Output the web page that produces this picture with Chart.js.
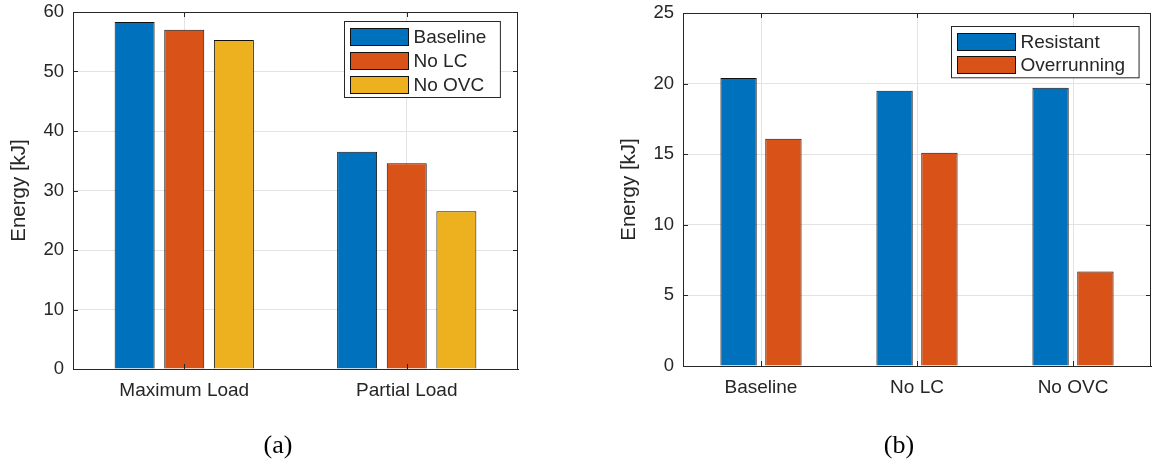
<!DOCTYPE html>
<html>
<head>
<meta charset="utf-8">
<script src="https://cdn.jsdelivr.net/npm/chart.js@4"></script>
<style>
  body { margin: 0; background: #fff; }
  #wrap { position: relative; width: 1152px; height: 463px; }
  .pan { position: absolute; top: 0; width: 576px; height: 463px; }
  .didascalia { position: absolute; top: 429px; width: 100px; text-align: center;
                font: 26px "Liberation Serif", "Times New Roman", serif; color: #000; line-height: 32px; }
</style>
</head>
<body>
<div id="wrap">
  <div class="pan" style="left:0"><canvas id="grafico_a" width="576" height="463"></canvas></div>
  <div class="pan" style="left:576px"><canvas id="grafico_b" width="576" height="463"></canvas></div>
  <div class="didascalia" style="left:228px">(a)</div>
  <div class="didascalia" style="left:849px">(b)</div>
</div>
<script>
// dati
const categorieA = ['Maximum Load', 'Partial Load'];
const baselineA = [58.3, 36.5];
const noLcA = [57.0, 34.6];
const noOvcA = [55.3, 26.5];
const tickA = [0, 10, 20, 30, 40, 50, 60];

const categorieB = ['Baseline', 'No LC', 'No OVC'];
const resistentB = [20.4, 19.5, 19.7];
const overrunningB = [16.1, 15.1, 6.7];
const tickB = [0, 5, 10, 15, 20, 25];

const BLU = '#0072BD', ROSSO = '#D95319', GIALLO = '#EDB120';
const ASSE = '#262626';
const FONT = '"Liberation Sans", Arial, Helvetica, sans-serif';

// box stile matlab: bordo completo, tacche interne, legenda con cornice
const boxMatlab = {
    id: 'boxMatlab',
    afterDraw(chart, args, opts){
        const ctx = chart.ctx;
        const a = chart.chartArea;
        const xs = chart.scales.x, ys = chart.scales.y;
        ctx.save();
        ctx.strokeStyle = ASSE;
        ctx.lineWidth = 1;
        ctx.strokeRect(Math.round(a.left) + 0.5, Math.round(a.top) + 0.5, Math.round(a.right - a.left) - 1, Math.round(a.bottom - a.top));
        const tl = 5;
        ctx.beginPath();
        ys.ticks.forEach((t, i) => {
            const y = Math.round(ys.getPixelForTick(i)) + 0.5;
            ctx.moveTo(a.left, y); ctx.lineTo(a.left + tl, y);
            ctx.moveTo(a.right, y); ctx.lineTo(a.right - tl, y);
        });
        xs.ticks.forEach((t, i) => {
            const x = Math.round(xs.getPixelForTick(i)) + 0.5;
            ctx.moveTo(x, a.bottom); ctx.lineTo(x, a.bottom - tl);
            ctx.moveTo(x, a.top); ctx.lineTo(x, a.top + tl);
        });
        ctx.stroke();

        // legenda
        ctx.font = '19px ' + FONT;
        const ds = chart.data.datasets;
        let maxW = 0;
        ds.forEach(d => { maxW = Math.max(maxW, ctx.measureText(d.label).width); });
        const sw = 58, sh = 17, passo = opts.passo;
        const w = 6 + sw + 5 + maxW + 14;
        const h = 6 + (ds.length - 1) * passo + sh + 5;
        const bx = Math.round(a.right - opts.dx - w) + 0.5;
        const by = Math.round(a.top + opts.dy) + 0.5;
        ctx.fillStyle = '#fff';
        ctx.fillRect(bx, by, w, h);
        ctx.strokeStyle = ASSE;
        ctx.strokeRect(bx, by, w, h);
        ds.forEach((d, i) => {
            const y = Math.round(by + 6 + i * passo);
            ctx.fillStyle = d.backgroundColor;
            ctx.fillRect(bx + 6, y, sw, sh);
            ctx.strokeStyle = '#111';
            ctx.strokeRect(bx + 6, y + 0.5, sw, sh);
            ctx.fillStyle = ASSE;
            ctx.textBaseline = 'middle';
            ctx.textAlign = 'left';
            ctx.fillText(d.label, bx + 6 + sw + 5, y + sh / 2 + 1);
        });
        ctx.restore();
    }
};

function creaGrafico(idCanvas, cfg){
    const ctx = document.getElementById(idCanvas).getContext('2d');
    return new Chart(ctx, {
        type: 'bar',
        data: {
            labels: cfg.labels,
            datasets: cfg.serie.map(s => ({
                label: s.label,
                data: s.data,
                backgroundColor: s.colore,
                borderColor: '#111',
                borderWidth: 1,
                categoryPercentage: cfg.catPerc,
                barPercentage: cfg.barPerc
            }))
        },
        options: {
            responsive: false,
            animation: false,
            layout: { padding: cfg.padding },
            plugins: {
                legend: { display: false },
                tooltip: { enabled: false },
                boxMatlab: cfg.legenda
            },
            scales: {
                x: {
                    grid: { offset: false, color: '#e3e3e3', drawTicks: false },
                    border: { color: ASSE },
                    ticks: { color: ASSE, font: { family: FONT, size: 19 }, padding: 10, maxRotation: 0 },
                    afterFit(s){ s.height = cfg.altX; s.paddingLeft = 0; s.paddingRight = 0; }
                },
                y: {
                    min: 0, max: cfg.max,
                    grid: { color: '#e3e3e3', drawTicks: false },
                    border: { color: ASSE },
                    afterBuildTicks(s){ s.ticks = cfg.tick.map(v => ({ value: v })); },
                    ticks: { color: ASSE, font: { family: FONT, size: 18.5 }, padding: 9 },
                    title: { display: true, text: 'Energy [kJ]', color: ASSE,
                             font: { family: FONT, size: 20.5 }, padding: { top: cfg.padTitolo } },
                    afterFit(s){ s.width = cfg.largY; s.paddingTop = 0; s.paddingBottom = 0; }
                }
            }
        },
        plugins: [boxMatlab]
    });
}

function start(){
    creaGrafico('grafico_a', {
        labels: categorieA,
        serie: [
            { label: 'Baseline', data: baselineA, colore: BLU },
            { label: 'No LC', data: noLcA, colore: ROSSO },
            { label: 'No OVC', data: noOvcA, colore: GIALLO }
        ],
        tick: tickA, max: 60,
        catPerc: 0.669, barPerc: 0.806,
        padding: { left: 0, top: 12, right: 58, bottom: 0 },
        largY: 73, altX: 94, padTitolo: 7,
        legenda: { dx: 18, dy: 9, passo: 24 }
    });
    creaGrafico('grafico_b', {
        labels: categorieB,
        serie: [
            { label: 'Resistant', data: resistentB, colore: BLU },
            { label: 'Overrunning', data: overrunningB, colore: ROSSO }
        ],
        tick: tickB, max: 25,
        catPerc: 0.575, barPerc: 0.81,
        padding: { left: 0, top: 13, right: 1, bottom: 0 },
        largY: 107, altX: 97, padTitolo: 41,
        legenda: { dx: 12, dy: 13, passo: 23.3 }
    });
}

if(document.readyState === 'loading') document.addEventListener('DOMContentLoaded', start);
else start();
</script>
</body>
</html>
